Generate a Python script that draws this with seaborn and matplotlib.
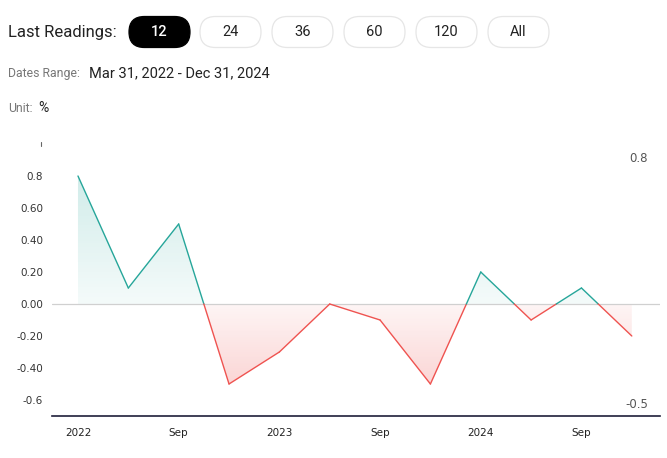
import numpy as np
import pandas as pd
import matplotlib
matplotlib.use("Agg")
import matplotlib.pyplot as plt
import seaborn as sns
from matplotlib.patches import FancyBboxPatch
from matplotlib.colors import LinearSegmentedColormap

# ---- data ----
dates = ["Mar 2022", "Jun 2022", "Sep 2022", "Dec 2022",
         "Mar 2023", "Jun 2023", "Sep 2023", "Dec 2023",
         "Mar 2024", "Jun 2024", "Sep 2024", "Dec 2024"]
values = [0.8, 0.1, 0.5, -0.5, -0.3, 0.0, -0.1, -0.5, 0.2, -0.1, 0.1, -0.2]
x_tick_labels = ["2022", "Sep", "2023", "Sep", "2024", "Sep"]
y_ticks = [0.8, 0.6, 0.4, 0.2, 0.0, -0.2, -0.4, -0.6]
y_tick_labels = ["0.8", "0.60", "0.40", "0.20", "0.00", "-0.20", "-0.40", "-0.6"]
buttons = ["12", "24", "36", "60", "120", "All"]

sns.set_theme(style="white")
plt.rcParams["font.family"] = ["Roboto", "DejaVu Sans"]

W, H = 667, 458
fig = plt.figure(figsize=(W / 100, H / 100), dpi=100)

def fx(px):
    return px / W

def fy(py):
    return 1 - py / H

# ---- header (overlay in pixel coordinates) ----
ov = fig.add_axes([0, 0, 1, 1], zorder=5)
ov.set_xlim(0, W)
ov.set_ylim(H, 0)
ov.axis("off")
ov.patch.set_alpha(0)

ov.text(8, 32, "Last Readings:", fontsize=12, color="#222222", va="center", ha="left")
btn_x = [128, 199, 271, 343, 415, 487]
for i, (lab, bx) in enumerate(zip(buttons, btn_x)):
    w, h = 63, 31
    active = i == 0
    p = FancyBboxPatch((bx + 1, 16.5), w - 2, h,
                       boxstyle="round,pad=0,rounding_size=15.5",
                       facecolor="#000000" if active else "white",
                       edgecolor="#000000" if active else "#e6e6e6", lw=0.9)
    ov.add_patch(p)
    ov.text(bx + w / 2, 32.5, lab, fontsize=10.5, ha="center", va="center",
            color="white" if active else "#222222",
            fontweight="medium" if active else "normal")

ov.text(8, 74, "Dates Range:", fontsize=8.8, color="#777777", va="center")
ov.text(89, 73.5, "Mar 31, 2022 - Dec 31, 2024", fontsize=10.5, color="#222222", va="center")
ov.text(8, 109, "Unit:", fontsize=8.8, color="#777777", va="center")
ov.text(38, 108, "%", fontsize=10, color="#222222", va="center")

# small mark at top of y axis
ov.plot([41, 41], [142, 146], color="#666666", lw=0.8)

# max/min annotations
ov.text(648, 158, "0.8", fontsize=8.5, color="#555555", ha="right", va="center",
        family=["DejaVu Sans"])
ov.text(648, 405, "-0.5", fontsize=8.5, color="#555555", ha="right", va="center",
        family=["DejaVu Sans"])

# ---- axes ----
ax = fig.add_axes([fx(52), fy(416), fx(660 - 52), (416 - 144) / H])
n = len(values)
xs = np.arange(n)

green = "#26a69a"
red = "#ef5350"

# split into positive/negative segments at zero crossings
px_list, py_list = [xs[0]], [values[0]]
for i in range(n - 1):
    y0, y1 = values[i], values[i + 1]
    if y0 * y1 < 0:
        xc = xs[i] + y0 / (y0 - y1)
        px_list.append(xc)
        py_list.append(0.0)
    px_list.append(xs[i + 1])
    py_list.append(y1)
px_arr = np.array(px_list, dtype=float)
py_arr = np.array(py_list, dtype=float)

# gradient fills
grad_g = LinearSegmentedColormap.from_list("g", [(0.149, 0.651, 0.604, 0.05), (0.149, 0.651, 0.604, 0.21)])
grad_r = LinearSegmentedColormap.from_list("r", [(0.937, 0.325, 0.314, 0.06), (0.937, 0.325, 0.314, 0.24)])
ext = [-0.516, 11.56]
poly_pos = ax.fill_between(px_arr, 0, np.clip(py_arr, 0, None), facecolor="none", lw=0)
poly_neg = ax.fill_between(px_arr, 0, np.clip(py_arr, None, 0), facecolor="none", lw=0)
g_img = np.linspace(1, 0, 200).reshape(-1, 1)
im1 = ax.imshow(g_img, extent=[ext[0], ext[1], 0, max(values)], aspect="auto", cmap=grad_g,
                vmin=0, vmax=1, origin="upper", zorder=1)
im1.set_clip_path(poly_pos.get_paths()[0], transform=ax.transData)
r_img = np.linspace(0, 1, 200).reshape(-1, 1)
im2 = ax.imshow(r_img, extent=[ext[0], ext[1], min(values), 0], aspect="auto", cmap=grad_r,
                vmin=0, vmax=1, origin="upper", zorder=1)
im2.set_clip_path(poly_neg.get_paths()[0], transform=ax.transData)

# zero line
ax.axhline(0, color="#d0d0d0", lw=0.9, zorder=2)

# line segments coloured by sign
for i in range(len(px_arr) - 1):
    seg = pd.DataFrame({"x": px_arr[i:i + 2], "y": py_arr[i:i + 2]})
    mid = (py_arr[i] + py_arr[i + 1]) / 2
    sns.lineplot(data=seg, x="x", y="y", ax=ax, color=green if mid >= 0 else red,
                 lw=1.0, zorder=3)

ax.set_xlim(-0.516, 11.56)
ax.set_ylim(-0.7, 1.0)
ax.set_xlabel("")
ax.set_ylabel("")
ax.set_xticks(xs[::2])
ax.set_xticklabels(x_tick_labels)
ax.set_yticks(y_ticks)
ax.set_yticklabels(y_tick_labels)
for s in ["top", "right", "left"]:
    ax.spines[s].set_visible(False)
ax.spines["bottom"].set_color("#1f1f3a")
ax.spines["bottom"].set_linewidth(1.2)
ax.tick_params(axis="x", length=4, width=0.8, color="#1f1f3a", labelsize=7.5,
               labelcolor="#222222", pad=5)
ax.tick_params(axis="y", length=0, labelsize=7.5, labelcolor="#333333", pad=6.5)
for t in ax.get_xticklabels() + ax.get_yticklabels():
    t.set_family(["DejaVu Sans"])
ax.grid(False)

fig.savefig("out.png", dpi=100)
